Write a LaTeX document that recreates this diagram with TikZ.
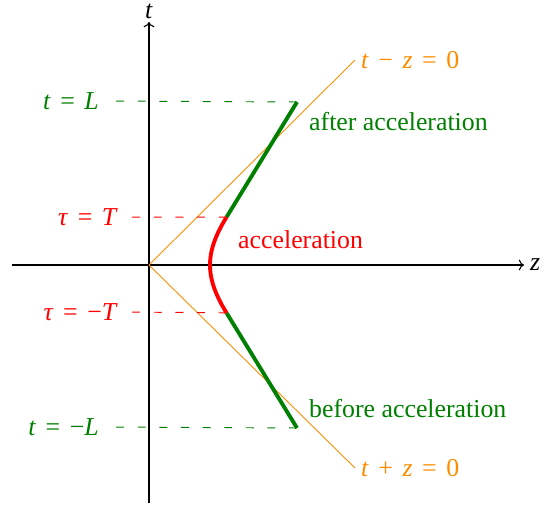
\documentclass[tikz,border=0pt]{standalone}
\usepackage{fontspec}
\setmainfont{Liberation Serif}
\usepackage{xcolor}
\usetikzlibrary{positioning, arrows.meta}
\definecolor{wline}{RGB}{0, 128, 0}
\definecolor{cone}{RGB}{255, 140, 0}
\definecolor{acc}{RGB}{255, 0, 0}
\newcommand{\ivar}[1]{\textit{#1}}
\newcommand{\opgap}{\hspace{0.37em}}

\begin{document}
\begin{tikzpicture}[
    x=0.02cm, y=0.02cm,
    axis/.style={->, line width=0.6pt},
    conel/.style={cone, line width=0.5pt},
    worldl/.style={wline, line width=2.2pt},
    accl/.style={acc, line width=2.2pt},
    guide/.style={#1, line width=0.55pt, dash pattern=on 4.5pt off 7.8pt},
    lbl/.style={font=\fontsize{14.7}{17}\selectfont, text=#1},
    lbl/.default=black
]
\useasboundingbox (-149,-243) rectangle (410,265);

% === Axes ===
\coordinate (o) at (0,0);
\coordinate (tlo) at (0,-238);
\coordinate (zlo) at (-137,0);
\node[lbl, anchor=south, inner sep=1.5pt] (tax) at (0,243) {\ivar{t}};
\node[lbl, anchor=west] (zax) at (375,0) {\ivar{z}};
\draw[axis] (tlo) -- (tax.south);
\draw[axis] (zlo) -- (zax.west);

% === Light cone ===
\node[lbl=cone, anchor=west] (cup) at (206,205) {\ivar{t}\opgap−\opgap\ivar{z}\opgap=\opgap0};
\node[lbl=cone, anchor=west] (cdn) at (206,-203) {\ivar{t}\opgap+\opgap\ivar{z}\opgap=\opgap0};
\draw[conel] (o) -- (cup.west);
\draw[conel] (o) -- (cdn.west);

% === World line ===
\coordinate (aT) at ({61*cosh(0.72)},{61*sinh(0.72)});
\coordinate (bT) at ({61*cosh(0.72)},{-61*sinh(0.72)});
\coordinate (aL) at (148,163);
\coordinate (bL) at (148,-163);
\draw[worldl] (aT) -- (aL);
\draw[worldl] (bT) -- (bL);
\draw[accl] plot[domain=-0.72:0.72, samples=40, smooth] ({61*cosh(\x)},{61*sinh(\x)});

\node[lbl=wline, anchor=west] (after) at (154,143) {after acceleration};
\node[lbl=acc, anchor=west] (accel) at (83,25) {acceleration};
\node[lbl=wline, anchor=west] (before) at (154,-144) {before acceleration};

% === Marks on the t axis ===
\node[lbl=wline, anchor=east] (lL) at (-44,164) {\ivar{t}\opgap=\opgap\ivar{L}};
\node[lbl=acc, anchor=east] (lT) at (-25,48) {\ivar{τ}\opgap=\opgap\ivar{T}};
\node[lbl=acc, anchor=east] (lmT) at (-25,-47) {\ivar{τ}\opgap=\opgap−\ivar{T}};
\node[lbl=wline, anchor=east] (lmL) at (-44,-162) {\ivar{t}\opgap=\opgap−\ivar{L}};
\draw[guide=wline] (aL) -- (lL.east);
\draw[guide=acc] (aT) -- (lT.east);
\draw[guide=acc] (bT) -- (lmT.east);
\draw[guide=wline] (bL) -- (lmL.east);

\end{tikzpicture}
\end{document}
